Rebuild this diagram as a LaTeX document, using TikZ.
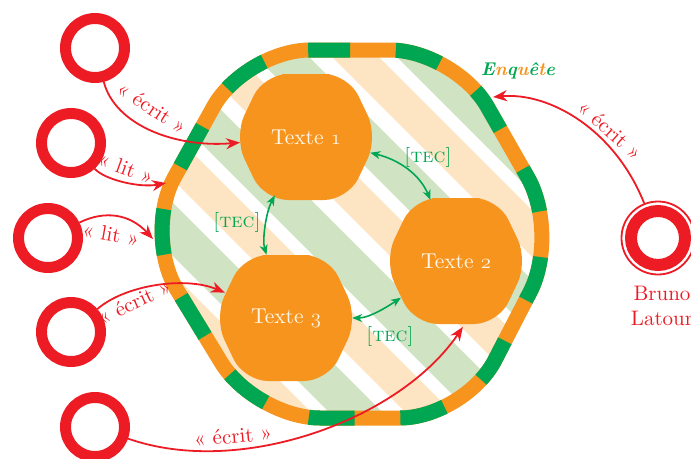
\documentclass[tikz,border=0pt]{standalone}
\usepackage{fontspec}
\setmainfont{lmroman10-regular.otf}[BoldFont=lmroman10-bold.otf, ItalicFont=lmroman10-italic.otf, BoldItalicFont=lmroman10-bolditalic.otf, SmallCapsFont=lmromancaps10-regular.otf]
\usetikzlibrary{arrows.meta}
\definecolor{cOrange}{RGB}{247,148,30}
\definecolor{cGreen}{RGB}{0,166,81}
\definecolor{cRed}{RGB}{237,28,36}
\definecolor{cLgreen}{RGB}{208,228,196}
\definecolor{cLorange}{RGB}{253,228,194}
\definecolor{cCream}{RGB}{255,248,232}
\newcommand\osn[1]{{\usefont{OML}{cmm}{m}{it}#1}}
\tikzset{
 ring/.style={circle, draw=cRed, line width=11pt, minimum size=59pt, inner sep=0pt},
 blobtext/.style={circle, minimum size=132pt, inner sep=0pt, text=cCream, font=\fontsize{21.5}{24}\selectfont},
 blob/.style={fill=cOrange, rounded corners=24pt},
 encl/.style={rounded corners=65pt},
 redarrow/.style={draw=cRed, line width=1.8pt, -{Stealth[length=14pt,width=11pt,inset=4.5pt]}},
 tecarrow/.style={draw=cGreen, line width=1.6pt, {Stealth[length=10pt,width=8pt,inset=3pt]}-{Stealth[length=10pt,width=8pt,inset=3pt]}},
 redlabel/.style={text=cRed, font=\fontsize{21}{25}\selectfont, inner sep=0pt},
 teclabel/.style={text=cGreen, font=\fontsize{20}{24}\selectfont, inner sep=0pt},
}
\begin{document}
\begin{tikzpicture}[x=1pt,y=-1pt]
\useasboundingbox (0,0) rectangle (691,458);
% striped interior
\begin{scope}
\clip[encl] (350,50) -- (455,50) -- (560,234) -- (465,418) -- (255,418) -- (143,234) -- (245,50) -- cycle;
\foreach \k in {-3,...,3}{
 \draw[cLgreen, line width=37.5pt] ({64.5+141*\k},-20) -- ({544.5+141*\k},460);
 \draw[cLorange, line width=33pt] ({137.5+141*\k},-20) -- ({617.5+141*\k},460);
}
\end{scope}
% border
\draw[encl, cOrange, line width=15pt] (350,50) -- (455,50) -- (560,234) -- (465,418) -- (255,418) -- (143,234) -- (245,50) -- (350,50);
\draw[encl, cGreen, line width=15pt, dash pattern=on 45.8pt off 45.8pt, dash phase=45.8pt] (350,50) -- (455,50) -- (560,234) -- (465,418) -- (255,418) -- (143,234) -- (245,50) -- (350,50);
% orange blobs
\path[blob, shift={(306,137)}] (0,-63) -- (42,-63) -- (72,0) -- (42,63) -- (-42,63) -- (-72,0) -- (-42,-63) -- cycle;
\path[blob, shift={(456,261)}] (0,-63) -- (42,-63) -- (72,0) -- (42,63) -- (-42,63) -- (-72,0) -- (-42,-63) -- cycle;
\path[blob, shift={(286,318)}] (0,-63) -- (42,-63) -- (72,0) -- (42,63) -- (-42,63) -- (-72,0) -- (-42,-63) -- cycle;
\node[blobtext] (t1) at (306,137) {Texte \osn{1}};
\node[blobtext] (t2) at (456,261) {Texte \osn{2}};
\node[blobtext] (t3) at (286,318) {Texte \osn{3}};
% label Enquete
\node[inner sep=0pt, font=\fontsize{18.5}{22}\selectfont\bfseries\itshape] (enq) at (518,71)
 {\textcolor{cGreen}{E}\textcolor{cOrange}{n}\textcolor{cGreen}{q}\textcolor{cOrange}{u}\textcolor{cGreen}{ê}\textcolor{cOrange}{t}\textcolor{cGreen}{e}};
% rings
\node[ring] (r1) at (95,48) {};
\node[ring] (r2) at (71,143) {};
\node[ring] (r3) at (48,238) {};
\node[ring] (r4) at (71,332) {};
\node[ring] (r5) at (95,427) {};
\node[circle, draw=cRed, line width=12pt, minimum size=54pt, inner sep=0pt, outer sep=10.5pt] (bruno) at (658,238) {};
\draw[cRed, line width=1.8pt] (bruno.center) circle[radius=36.5];
\node[redlabel, anchor=north, align=center] (brunolabel) at (662,286) {Bruno\\Latour};
% free ends on the border
\coordinate (lit1) at (166,183);
\coordinate (lit2) at (153,239);
\coordinate (enqin) at (493,97);
% red arrows
\draw[redarrow] (r1) .. controls (115,125) and (175,148) .. (t1);
\draw[redarrow] (r2) .. controls (105,180) and (140,188) .. (lit1);
\draw[redarrow] (r3) .. controls (105,210) and (130,214) .. (lit2);
\draw[redarrow] (r4) .. controls (125,285) and (185,276) .. (t3);
\draw[redarrow] (r5) .. controls (240,478) and (400,420) .. (t2.-84);
\draw[redarrow] (bruno) .. controls (615,130) and (550,92) .. (enqin);
% red labels
\node[redlabel, rotate=-33] (l1) at (152,108) {« écrit »};
\node[redlabel, rotate=-20] (l2) at (126,168) {« lit »};
\node[redlabel, rotate=-10] (l3) at (111,234) {« lit »};
\node[redlabel, rotate=25] (l4) at (134,302) {« écrit »};
\node[redlabel, rotate=5] (l5) at (233,436) {« écrit »};
\node[redlabel, rotate=-42] (l6) at (610,130) {« écrit »};
% TEC arrows
\draw[tecarrow] (t1) .. controls (400,160) and (420,175) .. (t2);
\draw[tecarrow] (t1) .. controls (266,212) and (262,240) .. (t3);
\draw[tecarrow] (t3) .. controls (370,318) and (390,305) .. (t2);
\node[teclabel] (tec1) at (428,157) {\textsc{[tec]}};
\node[teclabel] (tec2) at (237,222) {\textsc{[tec]}};
\node[teclabel] (tec3) at (390,336) {\textsc{[tec]}};
\end{tikzpicture}
\end{document}
